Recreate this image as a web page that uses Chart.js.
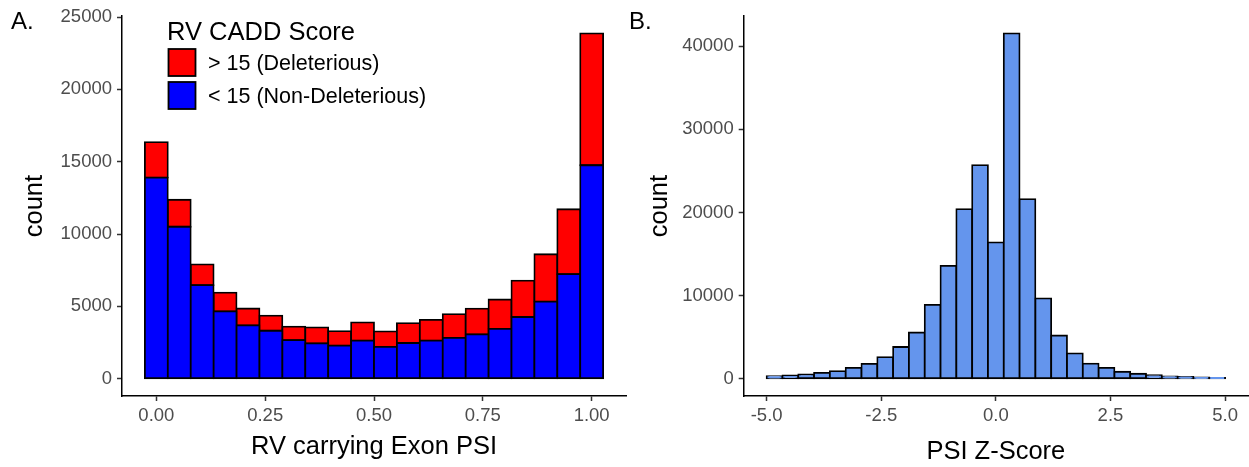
<!DOCTYPE html>
<html>
<head>
<meta charset="utf-8">
<script src="https://cdn.jsdelivr.net/npm/chart.js@4"></script>
<style>
  html, body { margin: 0; padding: 0; background: #fff; }
  #wrap { position: relative; width: 1249px; height: 467px; overflow: hidden; }
  #psiBox { position: absolute; left: 0; top: 0; }
  #zBox { position: absolute; left: 620px; top: 0; }
</style>
</head>
<body>
<div id="wrap">
  <div id="psiBox"><canvas id="psiChart" width="630" height="467"></canvas></div>
  <div id="zBox"><canvas id="zChart" width="629" height="467"></canvas></div>
</div>
<script>
// Panel A - 20 bins of RV carrying exon PSI, split by CADD score
var psiBins = [0, 0.052632, 0.105263, 0.157895, 0.210526, 0.263158, 0.315789, 0.368421, 0.421053, 0.473684,
               0.526316, 0.578947, 0.631579, 0.684211, 0.736842, 0.789474, 0.842105, 0.894737, 0.947368, 1];
var nonDeleterious = [13895, 10505, 6470, 4655, 3690, 3315, 2675, 2445, 2285, 2630,
                      2195, 2470, 2640, 2825, 3065, 3440, 4265, 5325, 7235, 14755];
var deleterious = [2465, 1865, 1430, 1290, 1165, 1050, 925, 1100, 1010, 1265,
                   1085, 1380, 1425, 1640, 1780, 2035, 2510, 3280, 4480, 9115];
var psiTicks = [0, 0.25, 0.5, 0.75, 1];
var psiCountTicks = [0, 5000, 10000, 15000, 20000, 25000];

// Panel B - 29 bins of PSI z-score between -5 and 5
var zBins = [-4.827586, -4.482759, -4.137931, -3.793103, -3.448276, -3.103448, -2.758621, -2.413793, -2.068966, -1.724138,
             -1.379310, -1.034483, -0.689655, -0.344828, 0, 0.344828, 0.689655, 1.034483, 1.379310, 1.724138,
             2.068966, 2.413793, 2.758621, 3.103448, 3.448276, 3.793103, 4.137931, 4.482759, 4.827586];
var zCounts = [300, 400, 530, 710, 910, 1310, 1780, 2600, 3820, 5560,
               8890, 13570, 20400, 25700, 16400, 41550, 21600, 9660, 5200, 3060,
               1820, 1310, 840, 600, 420, 290, 210, 150, 110];
var zTicks = [-5, -2.5, 0, 2.5, 5];
var zCountTicks = [0, 10000, 20000, 30000, 40000];

var FONT = '"Liberation Sans", Arial, sans-serif';
Chart.defaults.font.family = FONT;

var panelTag = {
    id: 'panelTag',
    afterDraw: function(chart, args, opts) {
        var ctx = chart.ctx;
        ctx.save();
        ctx.font = '24px ' + FONT;
        ctx.fillStyle = '#000';
        ctx.textBaseline = 'alphabetic';
        ctx.fillText(opts.text, opts.x, opts.y);
        ctx.restore();
    }
};

var ggLegend = {
    id: 'ggLegend',
    afterDraw: function(chart, args, opts) {
        var ctx = chart.ctx;
        ctx.save();
        ctx.fillStyle = '#000';
        ctx.textBaseline = 'alphabetic';
        ctx.font = '25.5px ' + FONT;
        ctx.fillText(opts.title, opts.x, opts.titleBaseline);
        var ds = chart.data.datasets.slice().reverse();
        ctx.font = '21.5px ' + FONT;
        for (var i = 0; i < ds.length; i++) {
            var top = opts.keyTop + i * opts.keyStep;
            ctx.fillStyle = ds[i].backgroundColor;
            ctx.fillRect(opts.x + 1.5, top, opts.keySize, opts.keySize);
            ctx.strokeStyle = '#000';
            ctx.lineWidth = 1.8;
            ctx.strokeRect(opts.x + 1.5, top, opts.keySize, opts.keySize);
            ctx.fillStyle = '#000';
            ctx.fillText(ds[i].label, opts.x + 41, top + opts.keySize / 2 + 7.7);
        }
        ctx.restore();
    }
};

function axisBase(ticksArr, fmt, size, isX) {
    return {
        type: 'linear',
        offset: false,
        afterBuildTicks: function(s) { s.ticks = ticksArr.map(function(v) { return {value: v}; }); },
        afterFit: function(s) { if (isX) { s.height = size; } else { s.width = size; } },
        ticks: { callback: fmt, color: '#4d4d4d', font: {size: 18.5}, padding: isX ? 4 : 5, maxRotation: 0, autoSkip: false },
        grid: { drawOnChartArea: false, drawTicks: true, tickLength: 5, tickWidth: 1.5, tickColor: '#333', offset: false },
        border: { display: true, color: '#000', width: 1.5 }
    };
}

// border centred on the bin edges like ggplot outlines
var barStyle = { borderColor: '#000', borderWidth: 1.8, inflateAmount: 0.9, borderSkipped: false, grouped: false,
                 barPercentage: 1, categoryPercentage: 1 };

// Panel A
var psiX = axisBase(psiTicks, function(v) { return v.toFixed(2); }, 71, true);
psiX.min = -0.0789; psiX.max = 1.0789;
psiX.title = { display: true, text: 'RV carrying Exon PSI', color: '#000', font: {size: 25.5}, padding: {top: 0, bottom: 4.7} };
var psiY = axisBase(psiCountTicks, function(v) { return String(v); }, 122, false);
psiY.min = -1193.5; psiY.max = 25063.5;
psiY.title = { display: true, text: 'count', color: '#000', font: {size: 25.5}, padding: {top: 20, bottom: 0} };

new Chart(document.getElementById('psiChart').getContext('2d'), {
    type: 'bar',
    data: {
        datasets: [
            Object.assign({
                label: '< 15 (Non-Deleterious)',
                data: psiBins.map(function(x, i) { return {x: x, y: nonDeleterious[i]}; }),
                backgroundColor: '#0000ff'
            }, barStyle),
            Object.assign({
                label: '> 15 (Deleterious)',
                data: psiBins.map(function(x, i) { return {x: x, y: [nonDeleterious[i], nonDeleterious[i] + deleterious[i]]}; }),
                backgroundColor: '#ff0000'
            }, barStyle)
        ]
    },
    options: {
        responsive: false,
        animation: false,
        layout: { padding: {left: 0, right: 4, top: 12.6, bottom: 0} },
        scales: { x: psiX, y: psiY },
        plugins: {
            legend: { display: false },
            tooltip: { enabled: false },
            panelTag: { text: 'A.', x: 11, y: 28.5 },
            ggLegend: { title: 'RV CADD Score', x: 167, titleBaseline: 39.5, keyTop: 49, keyStep: 33, keySize: 27 }
        }
    },
    plugins: [panelTag, ggLegend]
});

// Panel B
var zX = axisBase(zTicks, function(v) { return v.toFixed(1); }, 71, true);
zX.min = -5.5; zX.max = 5.5;
zX.title = { display: true, text: 'PSI Z-Score', color: '#000', font: {size: 25.5}, padding: {top: 0, bottom: 0} };
var zY = axisBase(zCountTicks, function(v) { return String(v); }, 123.7, false);
zY.min = -2077.5; zY.max = 43627.5;
zY.title = { display: true, text: 'count', color: '#000', font: {size: 25.5}, padding: {top: 24.5, bottom: 0} };

new Chart(document.getElementById('zChart').getContext('2d'), {
    type: 'bar',
    data: {
        datasets: [
            Object.assign({
                label: 'count',
                data: zBins.map(function(x, i) { return {x: x, y: zCounts[i]}; }),
                backgroundColor: '#6495ed'
            }, barStyle)
        ]
    },
    options: {
        responsive: false,
        animation: false,
        layout: { padding: {left: 0, right: 1, top: 14, bottom: 0} },
        scales: { x: zX, y: zY },
        plugins: {
            legend: { display: false },
            tooltip: { enabled: false },
            panelTag: { text: 'B.', x: 9, y: 28.5 }
        }
    },
    plugins: [panelTag]
});
</script>
</body>
</html>
